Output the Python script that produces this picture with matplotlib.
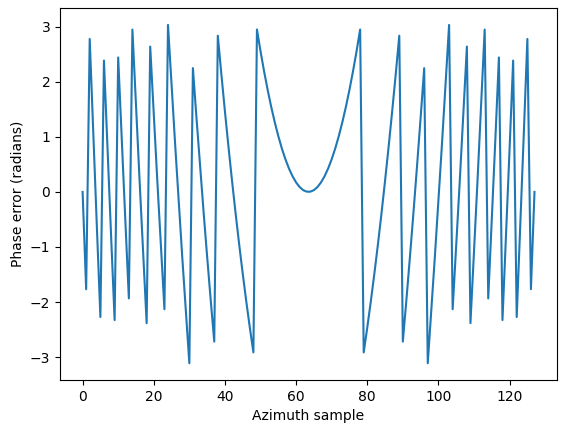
import numpy as np
import matplotlib
matplotlib.use("Agg")
import matplotlib.pyplot as plt

# wrapped phase error per azimuth sample
phase_err = [
    0.000, -1.767, 2.777, 1.066, -0.617, -2.272, 2.385, 0.786,
    -0.785, -2.327, 2.441, 0.955, -0.504, -1.934, 2.947, 1.572,
    0.226, -1.092, -2.383, 2.639, 1.404, 0.198, -0.980, -2.130,
    3.032, 1.938, 0.872, -0.166, -1.176, -2.157, -3.111, 2.247,
    1.349, 0.480, -0.362, -1.175, -1.961, -2.718, 2.836, 2.135,
    1.462, 0.817, 0.200, -0.390, -0.951, -1.483, -1.988, -2.465,
    -2.914, 2.949, 2.556, 2.191, 1.855, 1.546, 1.266, 1.013,
    0.789, 0.593, 0.424, 0.284, 0.172, 0.088, 0.032, 0.004,
    0.004, 0.032, 0.088, 0.172, 0.284, 0.424, 0.593, 0.789,
    1.013, 1.266, 1.546, 1.855, 2.191, 2.556, 2.949, -2.914,
    -2.465, -1.988, -1.483, -0.951, -0.390, 0.200, 0.817, 1.462,
    2.135, 2.836, -2.718, -1.961, -1.175, -0.362, 0.480, 1.349,
    2.247, -3.111, -2.157, -1.176, -0.166, 0.872, 1.938, 3.032,
    -2.130, -0.980, 0.198, 1.404, 2.639, -2.383, -1.092, 0.226,
    1.572, 2.947, -1.934, -0.504, 0.955, 2.441, -2.327, -0.785,
    0.786, 2.385, -2.272, -0.617, 1.066, 2.777, -1.767, 0.000,
]
samples = np.arange(len(phase_err))

fig = plt.figure(figsize=(5.65, 4.32), dpi=100)
ax = fig.add_axes([0.1062, 0.12, 0.8798, 0.8615])
ax.plot(samples, phase_err, color="#1f77b4", linewidth=1.5)
ax.set_xlabel("Azimuth sample")
ax.set_ylabel("Phase error (radians)")
ax.set_xticks([0, 20, 40, 60, 80, 100, 120])
ax.set_yticks([-3, -2, -1, 0, 1, 2, 3])

fig.savefig("out.png", dpi=100)
